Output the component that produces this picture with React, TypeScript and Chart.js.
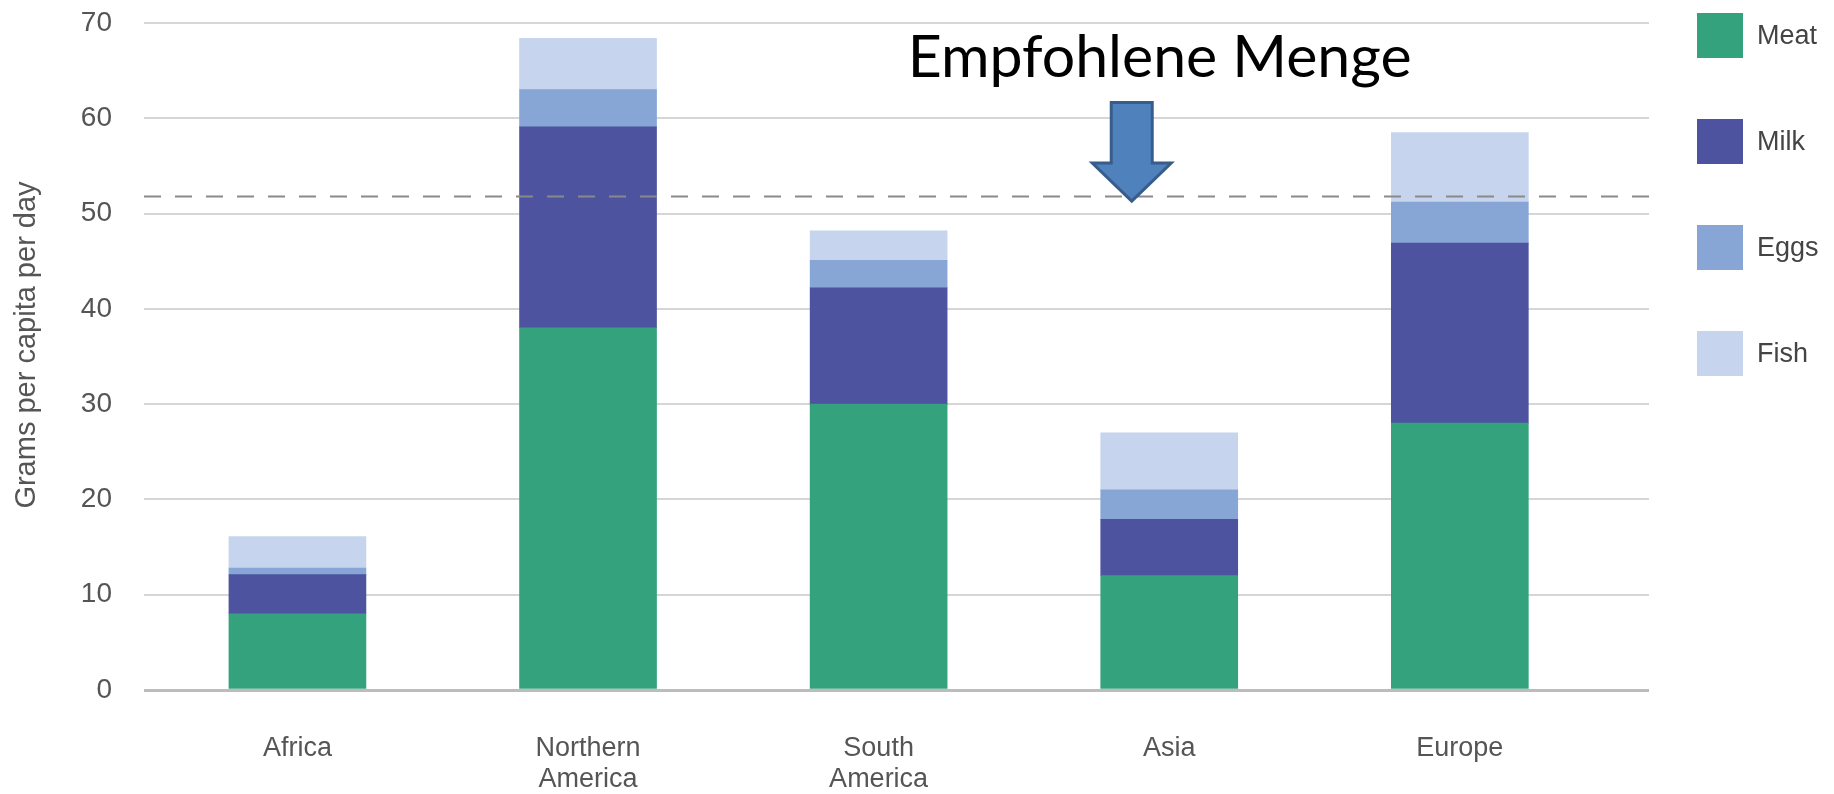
import React, { useEffect, useRef } from "react";
import { Chart, registerables } from "chart.js";

Chart.register(...registerables);

// ---------- data ----------
const categories: string[][] = [["Africa"], ["Northern", "America"], ["South", "America"], ["Asia"], ["Europe"]];
const seriesNames = ["Meat", "Milk", "Eggs", "Fish"];
const meat = [8.0, 38.0, 30.0, 12.0, 28.0];
const milk = [4.1, 21.1, 12.2, 5.9, 18.9];
const eggs = [0.7, 3.9, 2.9, 3.1, 4.3];
const fish = [3.3, 5.4, 3.1, 6.0, 7.3];
const yTicks = [0, 10, 20, 30, 40, 50, 60, 70];
const recommended = 51.8;
const annotationText = "Empfohlene Menge";
const axisTitle = "Grams per capita per day";

// ---------- styles ----------
const seriesColors = ["#35a27e", "#4d539f", "#87a5d5", "#c6d4ed"];
const grayText = "#555555";
const labelFont = "Liberation Sans";

// annotation placement (in scale units)
const textIndex = 2.967;
const textValue = 64.3;
const arrowIndex = 2.871;
const arrowTop = 61.65;
const arrowShoulder = 55.3;
const arrowTip = 51.3;

const overlay = {
  id: "overlay",
  afterDatasetsDraw(chart: any) {
    const { ctx, chartArea, scales } = chart;
    const x = scales.x;
    const y = scales.y;
    // recommended amount dashed line
    const yy = Math.round(y.getPixelForValue(recommended)) + 0.5;
    ctx.save();
    ctx.strokeStyle = "#8a8a8a";
    ctx.lineWidth = 2;
    ctx.setLineDash([17, 14]);
    ctx.beginPath();
    ctx.moveTo(chartArea.left, yy);
    ctx.lineTo(chartArea.right, yy);
    ctx.stroke();
    ctx.restore();

    // arrow
    const cx = x.getPixelForValue(arrowIndex);
    const top = y.getPixelForValue(arrowTop);
    const sh = y.getPixelForValue(arrowShoulder);
    const tip = y.getPixelForValue(arrowTip);
    const shaft = 20.5;
    const head = 39.5;
    ctx.save();
    ctx.beginPath();
    ctx.moveTo(cx - shaft, top);
    ctx.lineTo(cx + shaft, top);
    ctx.lineTo(cx + shaft, sh);
    ctx.lineTo(cx + head, sh);
    ctx.lineTo(cx, tip);
    ctx.lineTo(cx - head, sh);
    ctx.lineTo(cx - shaft, sh);
    ctx.closePath();
    ctx.fillStyle = "#4f81bd";
    ctx.fill();
    ctx.lineWidth = 3;
    ctx.strokeStyle = "#385d8a";
    ctx.lineJoin = "miter";
    ctx.stroke();
    ctx.restore();

    // annotation text
    ctx.save();
    ctx.font = "59px Lato";
    ctx.fillStyle = "#000000";
    ctx.textAlign = "center";
    ctx.textBaseline = "alphabetic";
    ctx.fillText(annotationText, x.getPixelForValue(textIndex), y.getPixelForValue(textValue));
    ctx.restore();
  },
  afterDraw(chart: any) {
    const { ctx, chartArea } = chart;
    // legend
    const lx = chartArea.right + 48;
    const box = 46;
    ctx.save();
    chart.data.datasets.forEach((ds: any, i: number) => {
      const top = 13 + i * 106;
      ctx.fillStyle = ds.backgroundColor;
      ctx.fillRect(lx, top, box, 45);
      ctx.fillStyle = "#444444";
      ctx.font = `27px '${labelFont}'`;
      ctx.textAlign = "left";
      ctx.textBaseline = "middle";
      ctx.fillText(ds.label, lx + box + 14, top + 24);
    });
    // y axis title
    ctx.translate(35, 345);
    ctx.rotate(-Math.PI / 2);
    ctx.fillStyle = grayText;
    ctx.font = `29px '${labelFont}'`;
    ctx.textAlign = "center";
    ctx.textBaseline = "alphabetic";
    ctx.fillText(axisTitle, 0, 0);
    ctx.restore();
  },
};

export default function App() {
  const ref = useRef<HTMLCanvasElement | null>(null);
  useEffect(() => {
    document.body.style.margin = "0";
    const canvas = ref.current;
    if (!canvas) return;
    const series = [meat, milk, eggs, fish];
    const chart = new Chart(canvas, {
      type: "bar",
      data: {
        labels: categories as any,
        datasets: series.map((d, i) => ({
          label: seriesNames[i],
          data: d,
          backgroundColor: seriesColors[i],
          borderWidth: 0,
          barThickness: 137,
        })),
      },
      options: {
        animation: false,
        responsive: false,
        events: [],
        layout: { padding: { top: 23, right: 185, left: 0, bottom: 0 } },
        plugins: {
          legend: { display: false },
          tooltip: { enabled: false },
          title: { display: false },
        },
        scales: {
          x: {
            stacked: true,
            grid: { display: false, drawTicks: false },
            border: { display: false },
            ticks: {
              color: grayText,
              padding: 43,
              maxRotation: 0,
              autoSkip: false,
              font: { family: labelFont, size: 27, lineHeight: 1.15 },
            },
            afterFit: (s: any) => {
              s.height = 104;
              s.paddingLeft = 0;
              s.paddingRight = 0;
            },
            afterBuildTicks: (s: any) => {
              s._startValue = -0.528;
              s._valueRange = 5.179;
            },
          },
          y: {
            stacked: true,
            min: 0,
            max: 70,
            grid: {
              drawTicks: false,
              color: (c: any) => (c.tick && c.tick.value === 0 ? "#bcbcbc" : "#d6d6d6"),
              lineWidth: (c: any) => (c.tick && c.tick.value === 0 ? 3 : 2),
            },
            border: { display: false },
            ticks: {
              color: grayText,
              padding: 32,
              font: { family: labelFont, size: 28 },
            },
            afterBuildTicks: (s: any) => {
              s.ticks = yTicks.map((v) => ({ value: v }));
            },
            afterFit: (s: any) => {
              s.width = 144;
              s.paddingTop = 0;
              s.paddingBottom = 0;
            },
          },
        },
      },
      plugins: [overlay],
    });
    return () => chart.destroy();
  }, []);
  return (
    <div style={{ width: 1834, height: 794, overflow: "hidden", background: "#ffffff" }}>
      <canvas ref={ref} width={1834} height={794} style={{ display: "block" }} />
    </div>
  );
}
